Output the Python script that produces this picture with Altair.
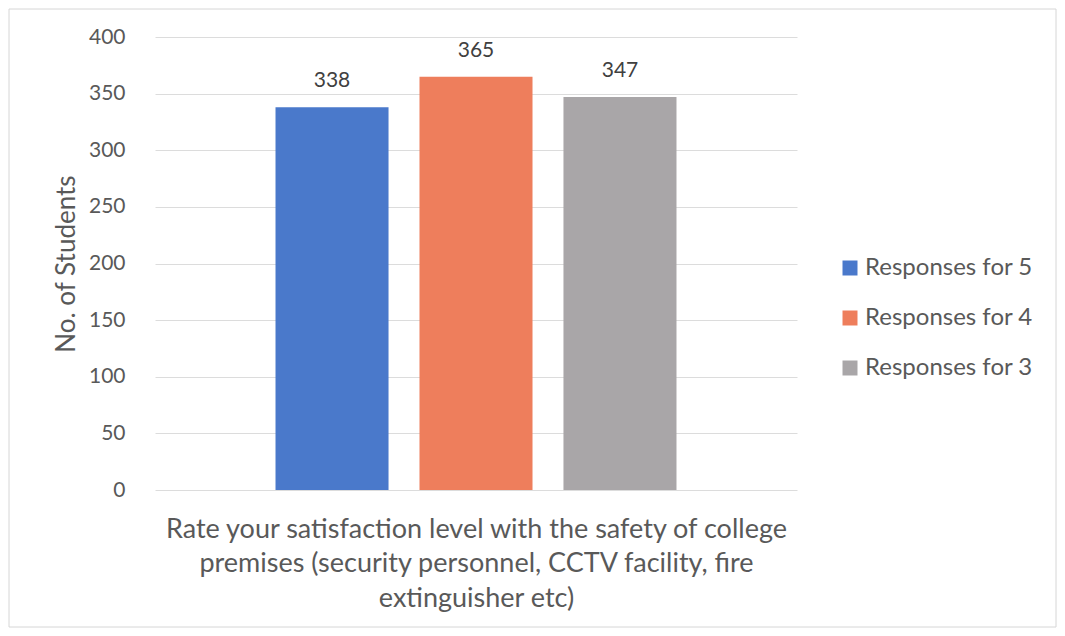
import altair as alt
import pandas as pd

series = ["Responses for 5", "Responses for 4", "Responses for 3"]
values = [338, 365, 347]
colors = ["#4a79cb", "#ee7e5c", "#a9a6a8"]
question = ["Rate your satisfaction level with the safety of college",
            "premises (security personnel, CCTV facility, fire",
            "extinguisher etc)"]
y_ticks = [0, 50, 100, 150, 200, 250, 300, 350, 400]

df = pd.DataFrame({"series": series, "value": values})
FONT = "Lato"
TXT = "#595959"

xscale = alt.Scale(domain=series, paddingInner=0.215, paddingOuter=0.837)
yscale = alt.Scale(domain=[0, 400])

bars = alt.Chart(df).mark_bar().encode(
    x=alt.X("series:N", scale=xscale, sort=series,
            axis=alt.Axis(title=question, labels=False, ticks=False, domain=False,
                          titleFont=FONT, titleFontSize=27, titleFontWeight="normal",
                          titleColor=TXT, titleLineHeight=34.5, titlePadding=26)),
    y=alt.Y("value:Q", scale=yscale,
            axis=alt.Axis(title="No. of Students", values=y_ticks, ticks=False, domain=False,
                          labelFont=FONT, labelFontSize=21, labelColor=TXT, labelPadding=30,
                          titleFont=FONT, titleFontSize=26, titleFontWeight="normal",
                          titleColor=TXT, titlePadding=9,
                          gridColor="#dcdcdc", gridWidth=1)),
    color=alt.Color("series:N", sort=series,
                    scale=alt.Scale(domain=series, range=colors),
                    legend=alt.Legend(title=None, orient="none", legendX=683, legendY=219,
                                      labelFont=FONT, labelFontSize=24, labelColor=TXT,
                                      labelLimit=400,
                                      symbolType="square", symbolSize=225, symbolStrokeWidth=0,
                                      rowPadding=26, labelOffset=3)),
)

labels = alt.Chart(df).mark_text(font=FONT, fontSize=21, color="#404040",
                                 baseline="alphabetic", dy=-20).encode(
    x=alt.X("series:N", scale=xscale, sort=series),
    y=alt.Y("value:Q", scale=yscale),
    text=alt.Text("value:Q"),
)

frame = alt.Chart(df.head(1)).mark_rect(fill=None, stroke="#d6d6d6", strokeWidth=1).encode(
    x=alt.value(-146), x2=alt.value(901), y=alt.value(-28), y2=alt.value(590)
)

chart = alt.layer(frame, bars, labels).properties(
    width=642, height=453,
    autosize=alt.AutoSizeParams(type="none"),
    padding={"left": 147, "top": 29, "right": 260, "bottom": 138},
    background="white",
).configure_view(stroke=None)

chart.save("out.html", embed_options={"renderer": "svg", "actions": False})
